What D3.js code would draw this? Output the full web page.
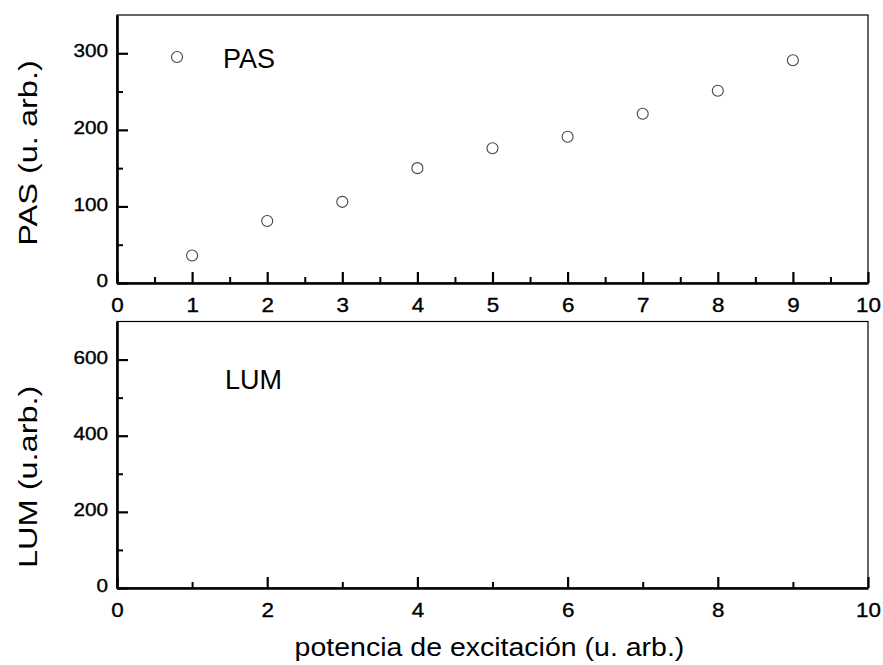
<!DOCTYPE html>
<html>
<head>
<meta charset="utf-8">
<script src="https://cdn.jsdelivr.net/npm/d3@7"></script>
<style>
  html, body { margin: 0; padding: 0; background: #fff; }
  svg { display: block; font-family: "Liberation Sans", Arial, Helvetica, sans-serif; }
  text { fill: #000; }
  .tick text { stroke: #000; stroke-width: 0.35px; }
</style>
</head>
<body>
<svg id="chart" width="883" height="665"></svg>
<script>
// Photoacoustic signal (PAS) vs excitation power
const pasPower = [1, 2, 3, 4, 5, 6, 7, 8, 9];
const pasSignal = [36, 81, 106, 150, 176, 191, 221, 251, 291];

// Luminescence (LUM) vs excitation power: no points recorded
const lumPower = [];
const lumSignal = [];

// Axis ticks
const topXTicks = [0, 1, 2, 3, 4, 5, 6, 7, 8, 9, 10];
const topXMinor = [0.5, 1.5, 2.5, 3.5, 4.5, 5.5, 6.5, 7.5, 8.5, 9.5];
const topYTicks = [0, 100, 200, 300];
const topYMinor = [50, 150, 250];
const botXTicks = [0, 2, 4, 6, 8, 10];
const botXMinor = [1, 3, 5, 7, 9];
const botYTicks = [0, 200, 400, 600];
const botYMinor = [100, 300, 500];

const xLabel = "potencia de excitación (u. arb.)";
const pasLabel = "PAS (u. arb.)";
const lumLabel = "LUM (u.arb.)";

const svg = d3.select("#chart");
const left = 117, right = 868;

const x = d3.scaleLinear().domain([0, 10]).range([left, right]);
const yTop = d3.scaleLinear().domain([0, 350]).range([283, 15]);
const yBot = d3.scaleLinear().domain([0, 700]).range([588, 321.5]);

// stretch text along its reading direction
function stretch(sel, f) {
  sel.each(function () {
    const len = this.getComputedTextLength();
    if (len > 0) d3.select(this).attr("textLength", len * f).attr("lengthAdjust", "spacingAndGlyphs");
  });
}

function panel(y, xTicks, xMinor, yTicks, yMinor) {
  const g = svg.append("g");
  const [y0, y1] = y.range();
  // frame (thin top/right)
  g.append("rect")
    .attr("x", left).attr("y", y1)
    .attr("width", right - left).attr("height", y0 - y1)
    .attr("fill", "none").attr("stroke", "#000").attr("stroke-width", 1.2);

  // minor ticks
  g.append("g").attr("transform", `translate(0,${y0})`)
    .call(d3.axisBottom(x).tickValues(xMinor).tickSize(-6).tickFormat(""))
    .call(a => a.select(".domain").remove())
    .selectAll("line").attr("stroke-width", 2);
  g.append("g").attr("transform", `translate(${left},0)`)
    .call(d3.axisLeft(y).tickValues(yMinor).tickSize(-6).tickFormat(""))
    .call(a => a.select(".domain").remove())
    .selectAll("line").attr("stroke-width", 2);

  // major ticks + labels
  const gx = g.append("g").attr("transform", `translate(0,${y0})`)
    .call(d3.axisBottom(x).tickValues(xTicks).tickSize(-11).tickSizeOuter(0).tickPadding(0).tickFormat(d3.format("d")));
  gx.select(".domain").attr("stroke-width", 2.6);
  gx.selectAll("line").attr("stroke-width", 2.2);
  gx.selectAll("text")
    .attr("font-size", 20)
    .attr("y", 0).attr("dy", 28.5);
  stretch(gx.selectAll("text"), 1.12);

  const gy = g.append("g").attr("transform", `translate(${left},0)`)
    .call(d3.axisLeft(y).tickValues(yTicks).tickSize(-11).tickSizeOuter(0).tickPadding(9).tickFormat(d3.format("d")));
  gy.select(".domain").attr("stroke-width", 2.6);
  gy.selectAll("line").attr("stroke-width", 2.2);
  gy.selectAll("text").attr("font-size", 18).attr("dy", "0.2em");
  stretch(gy.selectAll("text"), 1.15);
  g.selectAll(".tick text").attr("font-family", null);
  return g;
}

const gTop = panel(yTop, topXTicks, topXMinor, topYTicks, topYMinor);
const gBot = panel(yBot, botXTicks, botXMinor, botYTicks, botYMinor);

// PAS points
gTop.append("g").selectAll("circle")
  .data(pasPower.map((p, i) => ({ p, s: pasSignal[i] })))
  .join("circle")
  .attr("cx", d => x(d.p)).attr("cy", d => yTop(d.s))
  .attr("r", 5.5).attr("fill", "none").attr("stroke", "#444").attr("stroke-width", 1.1);

// LUM points (none)
gBot.append("g").selectAll("circle")
  .data(lumPower.map((p, i) => ({ p, s: lumSignal[i] })))
  .join("circle")
  .attr("cx", d => x(d.p)).attr("cy", d => yBot(d.s))
  .attr("r", 5.5).attr("fill", "none").attr("stroke", "#444");

// legends
const legTop = gTop.append("g").attr("transform", `translate(${left + 60},${yTop.range()[1] + 42})`);
legTop.append("circle").attr("r", 5.5).attr("fill", "none").attr("stroke", "#444").attr("stroke-width", 1.1);
legTop.append("text").attr("x", 46).attr("y", 11).attr("font-size", 27).text("PAS");

gBot.append("text")
  .attr("x", left + 108).attr("y", yBot.range()[1] + 67)
  .attr("font-size", 27).text("LUM");

// axis titles
svg.append("text")
  .attr("transform", `translate(37,${(yTop.range()[0] + yTop.range()[1]) / 2 + 4}) rotate(-90)`)
  .attr("text-anchor", "middle").attr("font-size", 25).text(pasLabel)
  .call(s => stretch(s, 1.3));
svg.append("text")
  .attr("transform", `translate(37,${(yBot.range()[0] + yBot.range()[1]) / 2 + 22}) rotate(-90)`)
  .attr("text-anchor", "middle").attr("font-size", 25).text(lumLabel)
  .call(s => stretch(s, 1.3));
svg.append("text")
  .attr("x", (left + right) / 2 - 3).attr("y", 656)
  .attr("text-anchor", "middle").attr("font-size", 25).text(xLabel)
  .call(s => stretch(s, 1.14));
</script>
</body>
</html>
